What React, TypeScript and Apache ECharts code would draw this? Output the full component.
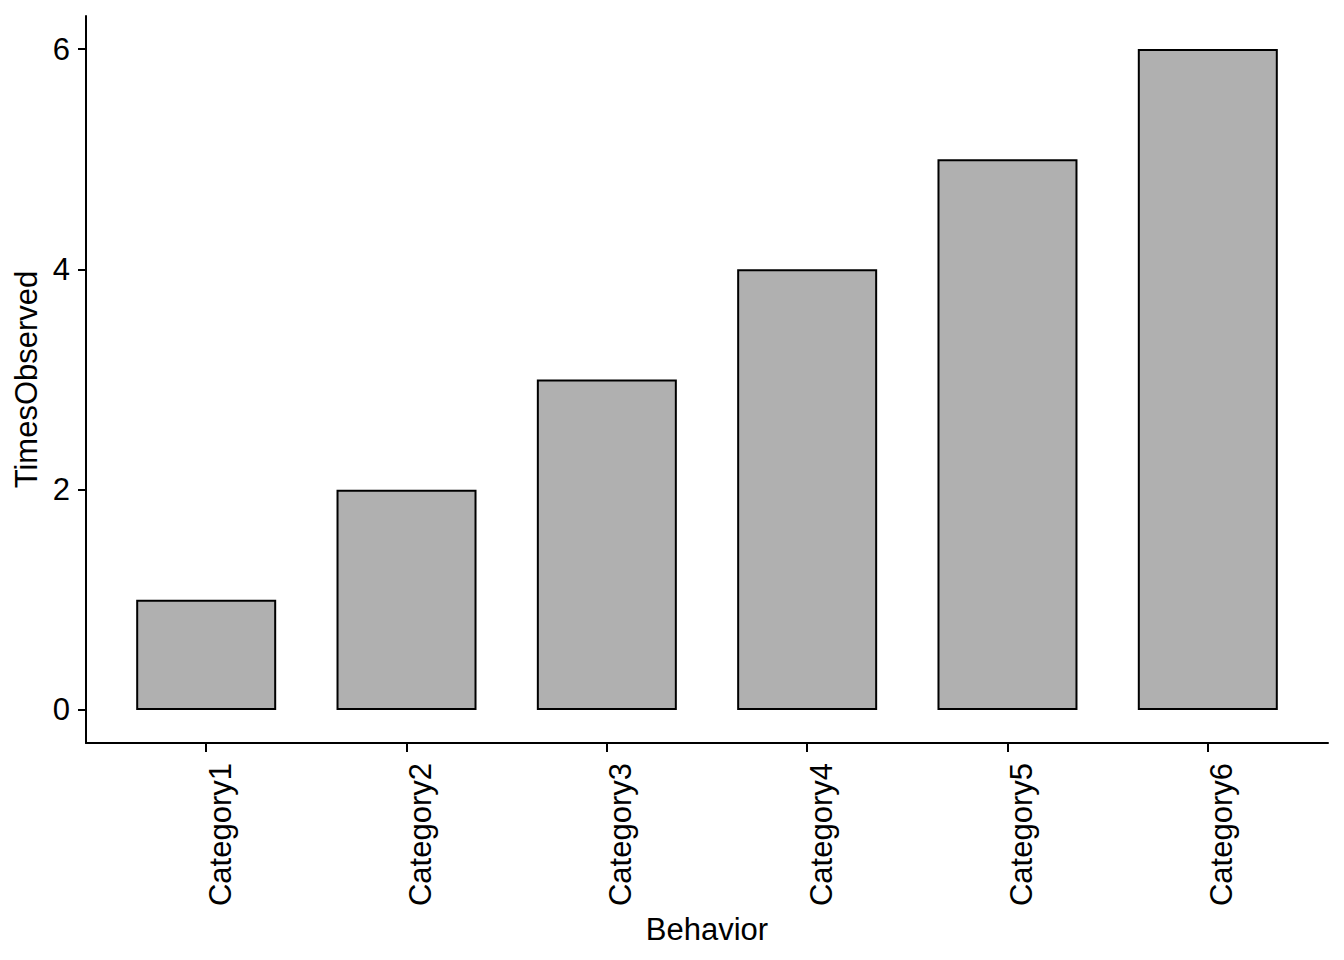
import React, { useEffect, useRef } from "react";
import * as echarts from "echarts";

const categories = ["Category1", "Category2", "Category3", "Category4", "Category5", "Category6"];
const positions = [1, 2, 3, 4, 5, 6];
const timesObserved = [1, 2, 3, 4, 5, 6];
const yTicks = [0, 2, 4, 6];

const FONT = "'Liberation Sans', Arial, sans-serif";

export default function App() {
  const ref = useRef<HTMLDivElement>(null);
  useEffect(() => {
    if (!ref.current) return;
    const chart = echarts.init(ref.current, undefined, { renderer: "svg" });
    chart.setOption({
      animation: false,
      backgroundColor: "#ffffff",
      textStyle: { fontFamily: FONT },
      grid: { left: 86, right: 16, top: 16, bottom: 217, containLabel: false },
      xAxis: {
        type: "value",
        min: 0.4,
        max: 6.6,
        name: "Behavior",
        nameLocation: "middle",
        nameGap: 166,
        nameTextStyle: { fontSize: 31, color: "#000", fontFamily: FONT },
        axisLine: { show: true, onZero: false, lineStyle: { color: "#000", width: 2 } },
        axisTick: { show: true, length: 9, lineStyle: { color: "#000", width: 2 }, customValues: positions },
        axisLabel: {
          rotate: 90,
          margin: 20,
          fontSize: 31,
          lineHeight: 28,
          color: "#000",
          fontFamily: FONT,
          verticalAlign: "top",
          customValues: positions,
          formatter: (v: number) => categories[Math.round(v) - 1] ?? "",
        },
        splitLine: { show: false },
      },
      yAxis: {
        type: "value",
        min: -0.3,
        max: 6.3,
        name: "TimesObserved",
        nameLocation: "middle",
        nameGap: 42,
        nameRotate: 90,
        nameTextStyle: { fontSize: 31, color: "#000", fontFamily: FONT },
        axisLine: { show: true, onZero: false, lineStyle: { color: "#000", width: 2 } },
        axisTick: { show: true, length: 8, lineStyle: { color: "#000", width: 2 }, customValues: yTicks },
        axisLabel: {
          margin: 16,
          fontSize: 31,
          color: "#000",
          fontFamily: FONT,
          customValues: yTicks,
        },
        splitLine: { show: false },
      },
      series: [
        {
          type: "bar",
          data: positions.map((p, i) => [p, timesObserved[i]]),
          barWidth: 140,
          itemStyle: { color: "#B0B0B0", borderColor: "#000", borderWidth: 2 },
        },
      ],
    });
    return () => chart.dispose();
  }, []);
  return <div ref={ref} style={{ width: 1344, height: 960, position: "absolute", left: 0, top: 0 }} />;
}
